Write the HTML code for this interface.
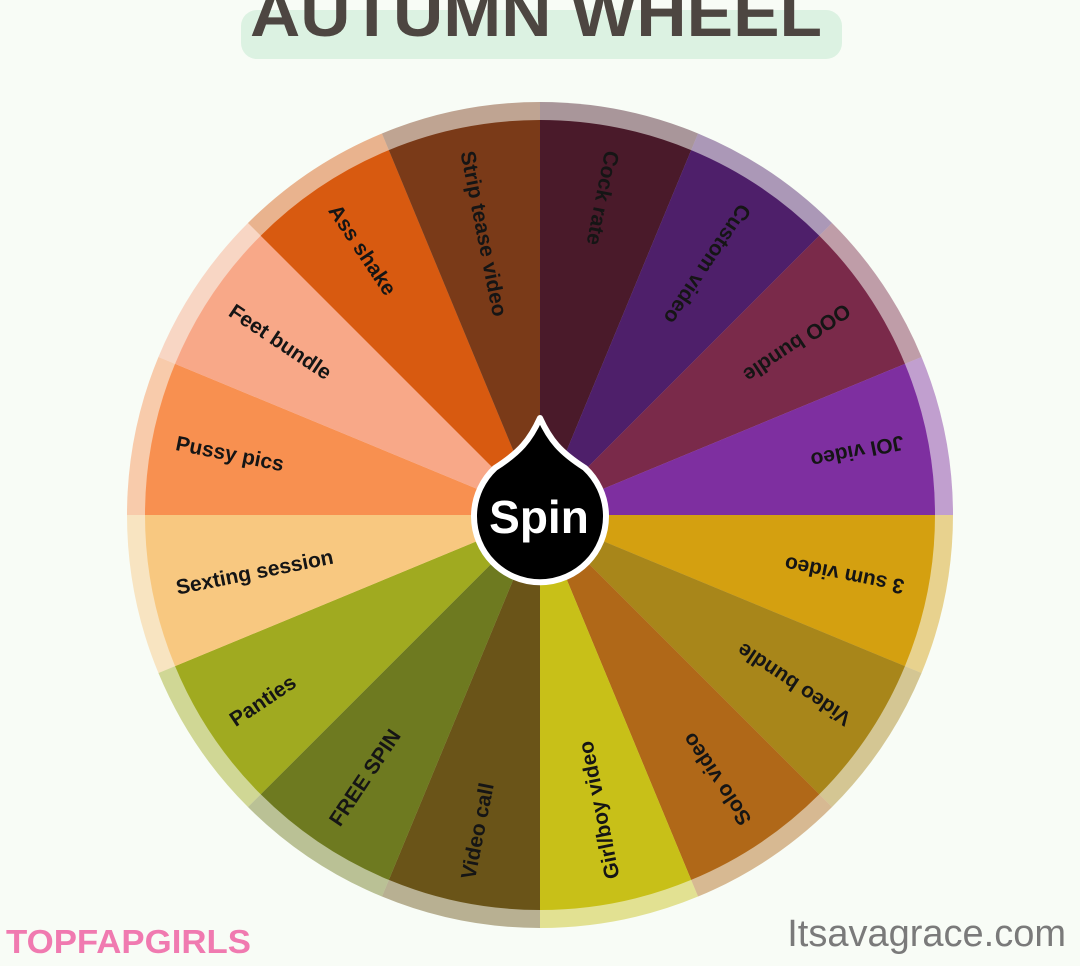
<!DOCTYPE html>
<html><head><meta charset="utf-8"><style>
html,body{margin:0;padding:0;background:#f8fcf6;}
svg{display:block}
text{font-family:"Liberation Sans","DejaVu Sans",sans-serif;}
</style></head><body>
<svg id="s" width="1080" height="966" viewBox="0 0 1080 966" xmlns="http://www.w3.org/2000/svg">
<rect width="1080" height="966" fill="#f8fcf6"/>
<rect x="241" y="10" width="601" height="49" rx="16" fill="#dcf2e2"/>
<text x="250" y="36" font-size="66" font-weight="bold" fill="#4d4641" textLength="572" lengthAdjust="spacingAndGlyphs">AUTUMN WHEEL</text>
<g id="wheel"></g>
<path d="M540 418 C550 440 560 452 585 468 A66 66 0 1 1 495 468 C520 452 530 440 540 418 Z" fill="#000" stroke="#fff" stroke-width="6" stroke-linejoin="round"/>
<text x="539" y="533" font-size="46" font-weight="bold" fill="#fff" text-anchor="middle">Spin</text>
<text x="6" y="953" font-size="33" font-weight="bold" fill="#f07ab0" textLength="245" lengthAdjust="spacingAndGlyphs">TOPFAPGIRLS</text>
<text x="1066" y="946" font-size="38" fill="#7a7a7a" text-anchor="end">Itsavagrace.com</text>
</svg>
<script>
var items=[["Cock rate","#4a1a2a"],["Custom video","#4e1f6a"],["OOO bundle","#7a2a4a"],["JOI video","#7e2fa0"],["3 sum video","#d4a010"],["Video bundle","#a8861a"],["Solo video","#b06818"],["Girl/boy video","#c8c018"],["Video call","#6a5418"],["FREE SPIN","#6e7a20"],["Panties","#a0aa20"],["Sexting session","#f8c880"],["Pussy pics","#f89050"],["Feet bundle","#f8a888"],["Ass shake","#d85a10"],["Strip tease video","#7a3a18"]];
var cx=540,cy=515,R1=413,R2=395,g=document.getElementById('wheel'),h="";
function pt(r,a){var t=a*Math.PI/180;return [cx+r*Math.sin(t),cy-r*Math.cos(t)];}
function sec(r,a0,a1){var p=pt(r,a0),q=pt(r,a1);return "M"+cx+" "+cy+"L"+p[0].toFixed(2)+" "+p[1].toFixed(2)+"A"+r+" "+r+" 0 0 1 "+q[0].toFixed(2)+" "+q[1].toFixed(2)+"Z";}
items.forEach(function(it,i){var a0=i*22.5,a1=a0+22.5;
h+='<path d="'+sec(R1,a0,a1)+'" fill="'+it[1]+'" opacity="0.45"/>';
h+='<path d="'+sec(R2,a0,a1)+'" fill="'+it[1]+'"/>';});
items.forEach(function(it,i){var m=i*22.5+11.25,a=m-270;
h+='<g transform="translate('+cx+','+cy+') rotate('+a+')"><text x="-371" y="0" dy="0.35em" font-size="21" font-weight="bold" fill="#151515">'+it[0]+'</text></g>';});
g.innerHTML=h;
</script>
</body></html>
